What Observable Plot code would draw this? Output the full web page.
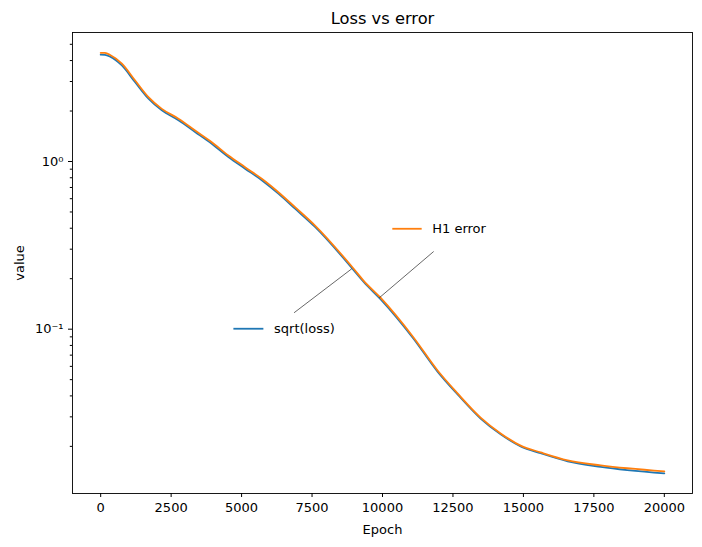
<!DOCTYPE html>
<html><head><meta charset="utf-8">
<script src="https://cdn.jsdelivr.net/npm/d3@7"></script>
<script src="https://cdn.jsdelivr.net/npm/@observablehq/plot@0.6"></script>
<style>body{margin:0;background:#fff}</style>
</head><body><div id="chart"></div>
<script>
const epochs   = [0, 150, 337, 752, 1223, 1695, 2170, 2759, 3351, 3943, 4532, 5124, 5716, 6305, 6897, 7606, 8970, 9325, 9929, 11101, 11954, 12664, 13481, 14192, 14902, 15613, 16572, 17744, 20000];
const h1Error  = [4.45, 4.44, 4.32, 3.83, 3.04, 2.42, 2.06, 1.80, 1.53, 1.303, 1.086, 0.925, 0.789, 0.656, 0.534, 0.415, 0.230, 0.195, 0.154, 0.0892, 0.0567, 0.0414, 0.0297, 0.0239, 0.0202, 0.0184, 0.0165, 0.0154, 0.0142];
const sqrtLoss = [4.34, 4.33, 4.22, 3.74, 2.97, 2.37, 2.02, 1.76, 1.50, 1.275, 1.063, 0.906, 0.773, 0.643, 0.523, 0.407, 0.226, 0.192, 0.151, 0.0877, 0.0558, 0.0408, 0.0293, 0.0236, 0.0200, 0.0182, 0.0163, 0.0151, 0.0138];

const seriesNames = ["sqrt(loss)", "H1 error"];
const seriesColors = ["#1f77b4", "#ff7f0e"];

// annotation labels (data coordinates)
const labelSegStart = [4709, 10348];
const labelSegEnd   = [5773, 11390];
const labelY        = [0.1006, 0.397];
const labelTextX    = [6152, 11766];
const leaderX1 = [6862, 11816];
const leaderY1 = [0.1253, 0.2906];
const leaderX2 = [8908, 9887];
const leaderY2 = [0.2291, 0.1539];

const xTicks = [0, 2500, 5000, 7500, 10000, 12500, 15000, 17500, 20000];
const yMajorTicks = [0.1, 1];
const yMajorLabels = ["10⁻¹", "10⁰"];
const yMinorTicks = [0.02,0.03,0.04,0.05,0.06,0.07,0.08,0.09,0.2,0.3,0.4,0.5,0.6,0.7,0.8,0.9,2,3,4,5];

const rows = [];
epochs.forEach((e, i) => {
  rows.push({epoch: e, value: sqrtLoss[i], series: seriesNames[0]});
});
epochs.forEach((e, i) => {
  rows.push({epoch: e, value: h1Error[i], series: seriesNames[1]});
});
const ann = seriesNames.map((s, i) => ({
  series: s, x1: labelSegStart[i], x2: labelSegEnd[i], y: labelY[i], tx: labelTextX[i],
  lx1: leaderX1[i], ly1: leaderY1[i], lx2: leaderX2[i], ly2: leaderY2[i]
}));

const chart = Plot.plot({
  width: 702,
  height: 547,
  marginTop: 32,
  marginLeft: 72,
  marginRight: 10,
  marginBottom: 54,
  style: {fontFamily: "DejaVu Sans", fontSize: "13px", color: "black", background: "white"},
  x: {domain: [-1000, 21000]},
  y: {type: "log", domain: [0.01047, 5.88]},
  color: {domain: seriesNames, range: seriesColors},
  marks: [
    Plot.line(rows, {x: "epoch", y: "value", stroke: "series", strokeWidth: 1.8, curve: "monotone-x"}),
    Plot.link(ann, {x1: "lx1", y1: "ly1", x2: "lx2", y2: "ly2", stroke: "black", strokeWidth: 0.6}),
    Plot.link(ann, {x1: "x1", y1: "y", x2: "x2", y2: "y", stroke: "series", strokeWidth: 1.8}),
    Plot.text(ann, {x: "tx", y: "y", text: "series", textAnchor: "start", fill: "black", fontSize: 13}),
    Plot.frame({stroke: "black", strokeWidth: 0.9}),
    Plot.axisX({ticks: xTicks, tickSize: 4, tickPadding: 5, fontSize: 13, tickFormat: d => String(d), label: "Epoch", labelAnchor: "center", labelArrow: "none", labelOffset: 40}),
    Plot.axisY({ticks: yMajorTicks, tickSize: 4, tickPadding: 5, fontSize: 13, tickFormat: d => yMajorLabels[yMajorTicks.indexOf(d)], label: "value", labelAnchor: "center", labelArrow: "none", labelOffset: 58}),
    Plot.axisY({ticks: yMinorTicks, tickSize: 2.2, tickFormat: () => "", label: null}),
    Plot.text(["Loss vs error"], {frameAnchor: "top", lineAnchor: "middle", dy: -14, fontSize: 16.3, fill: "black"})
  ]
});
document.getElementById("chart").append(chart);
</script>
</body></html>
